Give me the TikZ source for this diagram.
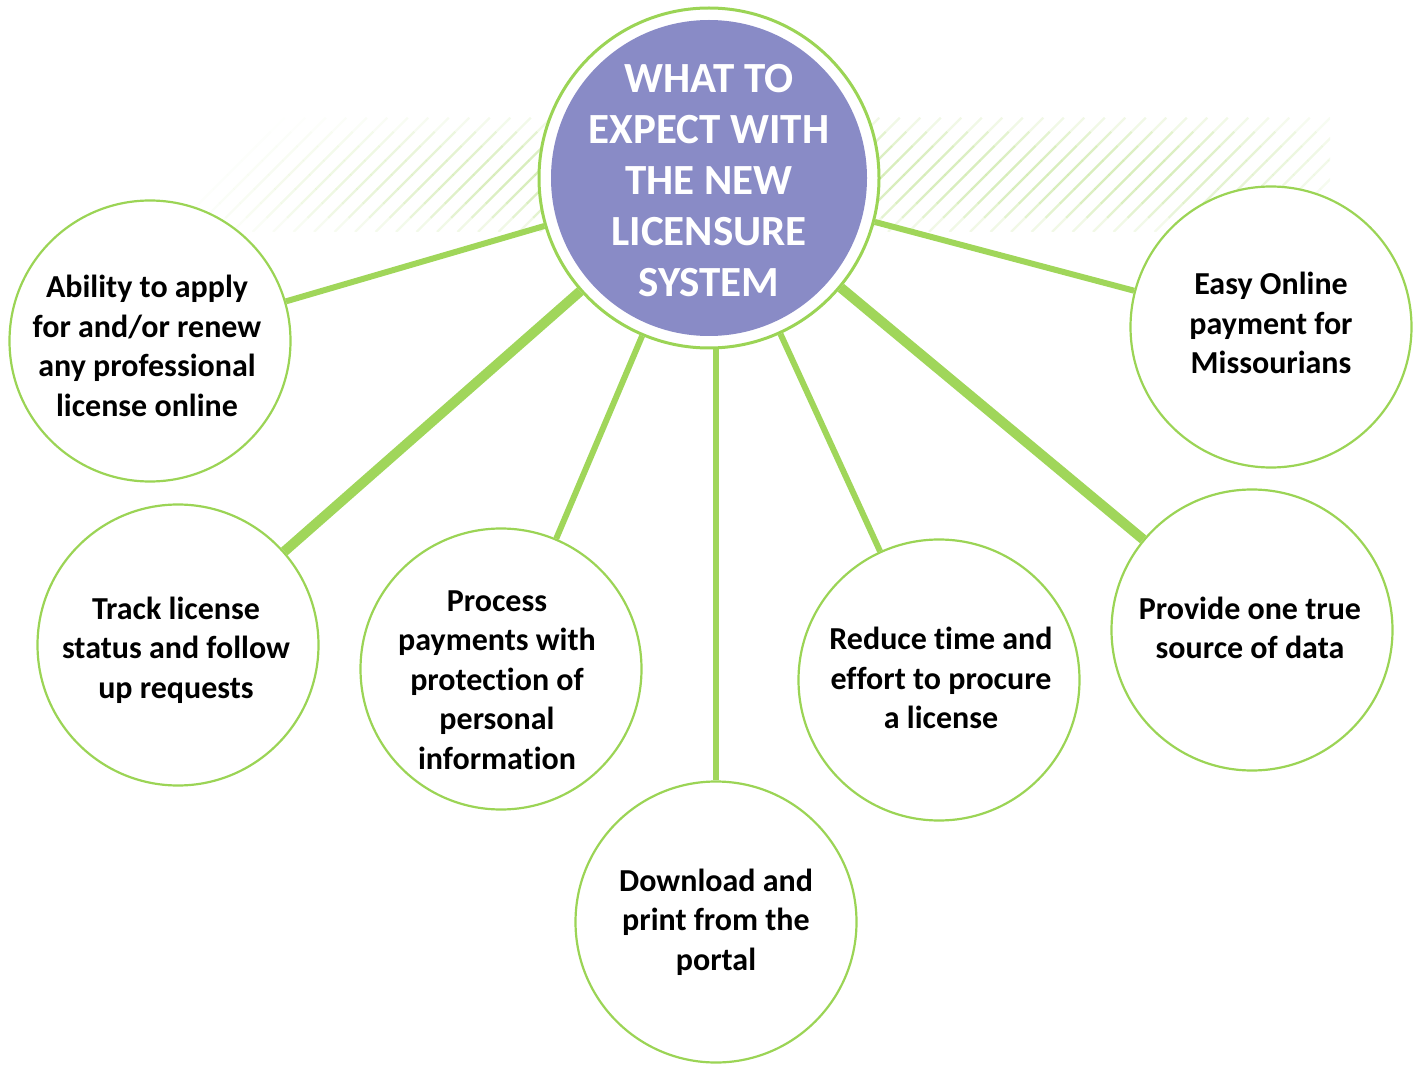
\documentclass[tikz,border=0pt]{standalone}
\usepackage{fontspec}
\setmainfont[Ligatures=NoCommon]{Carlito}
\definecolor{lgreen}{RGB}{160,214,90}
\definecolor{ringgreen}{RGB}{155,212,85}
\definecolor{hubpurple}{RGB}{137,139,198}
\definecolor{stripe}{RGB}{200,230,160}
\begin{document}
\begin{tikzpicture}[x=1pt,y=-1pt,
  leaf/.style={circle, draw=ringgreen, line width=2.2pt, fill=white, minimum size=281pt, inner sep=0pt},
  leaftext/.style={align=center, inner sep=0pt, font=\fontsize{32}{39.5}\selectfont\bfseries},
  link/.style={draw=lgreen, line width=6pt},
  boldlink/.style={draw=lgreen, line width=10pt}
]
\useasboundingbox (0,0) rectangle (1422,1067);
% hatched band
\begin{scope}
\clip (150,118) rectangle (1330,232);
\foreach \i in {0,...,59}{
  \pgfmathsetmacro\xx{150+\i*20.5}
  \pgfmathsetmacro\op{min(1,max(0,(\xx-150)/300))*min(1,max(0,(1330-\xx)/220))*0.7}
  \foreach \k in {0,...,7}{
    \pgfmathsetmacro\ok{\op*sin(180*(\k+0.5)/8)^0.6}
    \draw[stripe, line width=2.4pt, opacity=\ok] (\xx+\k*14.25,232-\k*14.25) -- ++(14.6,-14.6);
  }
}
\end{scope}
% hub
\node[circle, draw=ringgreen, line width=3pt, fill=white, minimum size=340pt, inner sep=0pt] (hub) at (709,178) {};
\fill[hubpurple] (hub.center) circle (158);
\node[align=center, text=white, inner sep=0pt, font=\fontsize{43}{51}\selectfont\bfseries] (title) at (709,181) {WHAT TO\\EXPECT WITH\\THE NEW\\LICENSURE\\SYSTEM};
% leaves
\node[leaf] (c1) at (150,341) {};
\node[leaf] (c2) at (178,645) {};
\node[leaf] (c3) at (501,669) {};
\node[leaf] (c4) at (716,922) {};
\node[leaf] (c5) at (939,680) {};
\node[leaf] (c6) at (1252,630) {};
\node[leaf] (c7) at (1271,327) {};
% links
\draw[link] (hub) -- (c1);
\draw[boldlink] (hub) -- (c2);
\draw[link] (hub) -- (c3);
\draw[link] (hub.south -| c4) -- (c4);
\draw[link] (hub) -- (c5);
\draw[boldlink] (hub) -- (c6);
\draw[link] (hub) -- (c7);
% texts
\node[leaftext] (t1) at (147,346) {Ability to apply\\for and/or renew\\any professional\\license online};
\node[leaftext] (t2) at (176,650) {Track license\\status and follow\\up requests};
\node[leaftext] (t3) at (497,680) {Process\\payments with\\protection of\\personal\\information};
\node[leaftext] (t4) at (716,922) {Download and\\print from the\\portal};
\node[leaftext] (t5) at (941,678) {Reduce time and\\effort to procure\\a license};
\node[leaftext] (t6) at (1250,628) {Provide one true\\source of data};
\node[leaftext] (t7) at (1271,323) {Easy Online\\payment for\\Missourians};
\end{tikzpicture}
\end{document}
